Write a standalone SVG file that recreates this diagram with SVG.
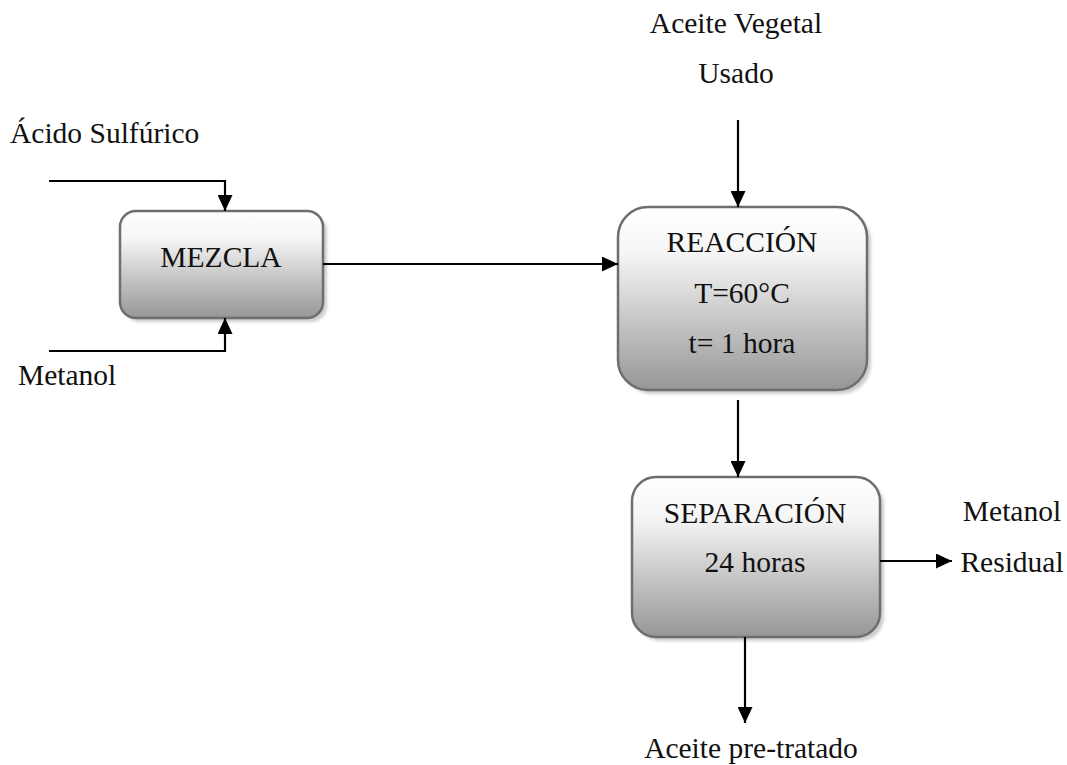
<svg xmlns="http://www.w3.org/2000/svg" width="1067" height="765" viewBox="0 0 1067 765">
  <defs>
    <linearGradient id="boxFill" x1="0" y1="0" x2="0" y2="1">
      <stop offset="0" stop-color="#ffffff"/>
      <stop offset="0.25" stop-color="#f6f6f6"/>
      <stop offset="1" stop-color="#969696"/>
    </linearGradient>
    <filter id="soft" x="-10%" y="-10%" width="130%" height="130%">
      <feGaussianBlur stdDeviation="1.5"/>
    </filter>
    <marker id="arrow" markerUnits="userSpaceOnUse" markerWidth="17" markerHeight="15" refX="16" refY="7.5" orient="auto">
      <path d="M0,0 L16,7.5 L0,15 Z" fill="#000"/>
    </marker>
  </defs>
  <style>
    text { font-family: "Liberation Serif", "Times New Roman", serif; font-size: 29.5px; fill: #111; }
    .mid { text-anchor: middle; }
    .box { fill: url(#boxFill); stroke: #6e6e6e; stroke-width: 2.5; }
    .shadow { fill: #b8b8b8; opacity: 0.7; filter: url(#soft); }
    .flow { fill: none; stroke: #000; stroke-width: 2.2; marker-end: url(#arrow); }
  </style>

  <rect width="1067" height="765" fill="#ffffff"/>

  <!-- stream labels -->
  <g id="labels" font-family="Liberation Serif, serif">
    <text x="10" y="143">Ácido Sulfúrico</text>
    <text x="18" y="385">Metanol</text>
    <text class="mid" x="736" y="33">Aceite Vegetal</text>
    <text class="mid" x="736" y="83">Usado</text>
    <text class="mid" x="1012" y="521">Metanol</text>
    <text class="mid" x="1012" y="572">Residual</text>
    <text class="mid" x="751" y="758">Aceite pre-tratado</text>
  </g>

  <!-- process units -->
  <g id="mezcla">
    <rect class="shadow" x="124" y="215" width="203" height="107" rx="16"/>
    <rect class="box" x="120" y="211" width="203" height="107" rx="16"/>
    <text class="mid" x="221" y="267">MEZCLA</text>
  </g>

  <g id="reaccion">
    <rect class="shadow" x="622" y="211" width="249" height="183" rx="30"/>
    <rect class="box" x="618" y="207" width="249" height="183" rx="30"/>
    <text class="mid" x="742" y="252">REACCIÓN</text>
    <text class="mid" x="742" y="303">T=60°C</text>
    <text class="mid" x="742" y="353">t= 1 hora</text>
  </g>

  <g id="separacion">
    <rect class="shadow" x="636" y="481" width="248" height="160" rx="24"/>
    <rect class="box" x="632" y="477" width="248" height="160" rx="24"/>
    <text class="mid" x="755" y="523">SEPARACIÓN</text>
    <text class="mid" x="755" y="572">24 horas</text>
  </g>

  <!-- connectors -->
  <g id="connectors">
    <path class="flow" d="M49,181 H225 V211"/>
    <path class="flow" d="M49,351 H225 V318"/>
    <path class="flow" d="M323,264 H618"/>
    <path class="flow" d="M738,120 V207"/>
    <path class="flow" d="M738,400 V477"/>
    <path class="flow" d="M880,561 H952"/>
    <path class="flow" d="M745,637 V723"/>
  </g>
</svg>
